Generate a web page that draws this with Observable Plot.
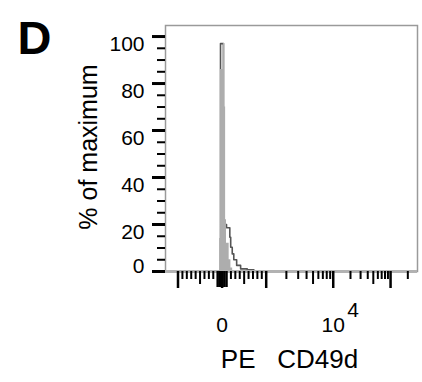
<!DOCTYPE html>
<html>
<head>
<meta charset="utf-8">
<script src="https://cdn.jsdelivr.net/npm/d3@7"></script>
<script src="https://cdn.jsdelivr.net/npm/@observablehq/plot@0.6"></script>
<style>
  html, body { margin: 0; padding: 0; background: #fff; }
  #chart svg { display: block; }
</style>
</head>
<body>
<div id="chart"></div>
<script>
// ---- data (fluorescence units on a biexponential-like axis, % of maximum) ----
// control histogram (filled light gray): bin start -> percent
const ctrlX   = [-120, -55, -36, 30, 62, 80, 100, 160, 200, 240];
const ctrlPct = [0, 14, 86, 97, 70, 22, 12, 5, 1.5, 0];
// sample histogram (dark outline): bin start -> percent
const sampleX   = [-120, -36, 30, 100, 175, 195, 230, 265, 330, 420, 570, 720, 800];
const samplePct = [0, 97, 20, 18.6, 14.6, 10.3, 7.5, 5.0, 2.6, 1.1, 0.7, 0, 0];

// axis ticks
const yMajorTicks = [0, 20, 40, 60, 80, 100];
const yMinorTicks = [5, 10, 15, 25, 30, 35, 45, 50, 55, 65, 70, 75, 85, 90, 95];
const xMajorTicks = [-1000, 0, 1000, 10000, 100000];
const xMediumTicks = [-500, 500, 5000, 50000];
const xZeroTicks = [-100, -50, 50, 100];
const xMinorTicks = [-900, -800, -700, -600, -400, -300, -200,
  200, 300, 400, 600, 700, 800, 900,
  2000, 3000, 4000, 6000, 7000, 8000, 9000,
  20000, 30000, 40000, 60000, 70000, 80000, 90000, 200000];
const xTickLabelValues = [0, 10000];
const xTickLabels = ["0", "10"];
const xExponentValue = 10000, xExponent = "4";
const xTitle = "PE\u00a0\u00a0\u00a0CD49d";
const yTitle = "% of maximum";
const panelLetter = "D";

// build series
const ctrl = ctrlX.map((x, i) => ({x, y: ctrlPct[i]}));
const sample = sampleX.map((x, i) => ({x, y: samplePct[i]}));

// biexponential-like display transform (linear near zero, log decades beyond)
function biex(v) {
  const a = Math.abs(v), s = Math.sign(v);
  if (a <= 1000) return v / 1000;
  if (a <= 10000) return s * (1 + 1.52 * Math.log10(a / 1000));
  return s * (2.52 + 1.30 * Math.log10(a / 10000));
}

const font = "'Liberation Sans', Arial, Helvetica, sans-serif";

const chart = Plot.plot({
  width: 422,
  height: 382,
  marginLeft: 165,
  marginRight: 5,
  marginTop: 25,
  marginBottom: 111,
  style: {fontFamily: font, fontSize: "21px", background: "#fff", color: "#000"},
  x: {transform: biex, domain: [-1.2834, 4.4308]},
  y: {domain: [0, 104.7]},
  marks: [
    Plot.frame({stroke: "#9a9a9a", strokeWidth: 1.5}),
    Plot.lineY(sample, {x: "x", y: "y", curve: "step-after", stroke: "#555555", strokeWidth: 1.6}),
    Plot.areaY(ctrl, {x: "x", y: "y", curve: "step-after", fill: "#adadad"}),
    Plot.ruleY([0], {stroke: "#b2b2b2", strokeWidth: 3}),
    // y axis
    Plot.axisY(yMajorTicks, {tickSize: 13, strokeWidth: 3, tickFormat: () => "", label: null}),
    Plot.axisY(yMinorTicks, {tickSize: 8, strokeWidth: 2, tickFormat: () => "", label: null, line: true}),
    Plot.text(yMajorTicks.filter(d => d > 0), {y: d => d, text: d => String(d), frameAnchor: "left", dx: -21, textAnchor: "end", lineAnchor: "top", fontSize: 21}),
    Plot.text(yMajorTicks.filter(d => d === 0), {y: d => d, text: d => String(d), frameAnchor: "left", dx: -21, dy: 1, textAnchor: "end", lineAnchor: "bottom", fontSize: 21}),
    // x axis
    Plot.axisX(xMajorTicks, {tickSize: 17, strokeWidth: 2.5, tickFormat: () => "", label: null}),
    Plot.axisX(xZeroTicks, {tickSize: 16, strokeWidth: 2.5, tickFormat: () => "", label: null}),
    Plot.axisX(xMediumTicks, {tickSize: 13, strokeWidth: 2, tickFormat: () => "", label: null}),
    Plot.axisX(xMinorTicks, {tickSize: 8, strokeWidth: 2, tickFormat: () => "", label: null}),
    Plot.text(xTickLabelValues, {x: d => d, text: (d, i) => xTickLabels[i], frameAnchor: "bottom", dy: 46, lineAnchor: "top", fontSize: 21}),
    Plot.text([xExponentValue], {x: d => d, text: () => xExponent, frameAnchor: "bottom", dx: 14, dy: 31, textAnchor: "start", lineAnchor: "top", fontSize: 21}),
    // titles
    Plot.text([xTitle], {text: d => d, frameAnchor: "bottom", dx: -2, dy: 96, textAnchor: "middle", lineAnchor: "bottom", fontSize: 26}),
    Plot.text([yTitle], {text: d => d, frameAnchor: "left", rotate: -90, dx: -69, dy: -1.5, textAnchor: "middle", lineAnchor: "bottom", fontSize: 25}),
    Plot.text([panelLetter], {text: d => d, frameAnchor: "top-left", dx: -148, dy: 28.5, textAnchor: "start", lineAnchor: "bottom", fontSize: 47, fontWeight: "bold"})
  ]
});
document.getElementById("chart").appendChild(chart);
</script>
</body>
</html>
